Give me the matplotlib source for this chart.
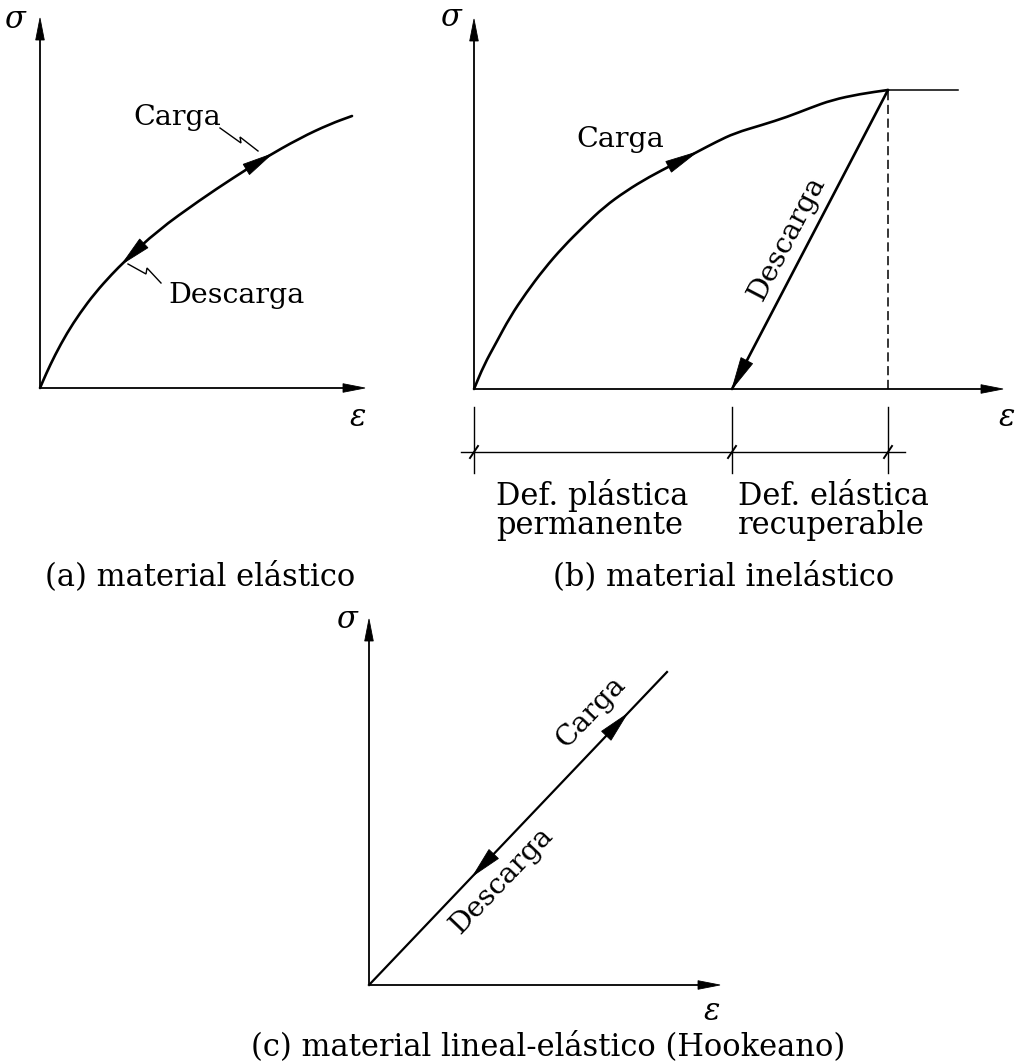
import numpy as np
import matplotlib
matplotlib.use("Agg")
import matplotlib.pyplot as plt
from matplotlib.patches import Polygon, PathPatch
from matplotlib.path import Path
from matplotlib import transforms

plt.rcParams['font.family'] = ['DejaVu Serif']

# ---------------------------------------------------------------
# Stress-strain curves, in drawing units measured from each
# panel's origin (strain to the right, stress upwards)
# ---------------------------------------------------------------
# (a) elastic material: loading and unloading follow the same curve
a_strain = [0, 6, 15, 27, 40, 55, 72, 85, 117, 160, 193, 223, 260, 290, 312]
a_stress = [0, 14, 33, 55, 75, 95, 114, 127, 157, 188, 210, 229, 250, 264, 272]

# (b) inelastic material: loading curve, elastic unloading, yield plateau
b_load_strain = [0, 10, 22, 36, 52, 70, 89, 110, 130, 152, 175, 200, 223, 242,
                 261, 288, 313, 336, 358, 386, 414]
b_load_stress = [0, 24, 46, 72, 96, 120, 142, 163, 182, 198, 212, 225, 237, 247,
                 256, 264, 272, 281, 289, 295, 299]
b_unload_strain = [414, 258]
b_unload_stress = [299, 0]
b_plateau_strain = [414, 484]
b_plateau_stress = [299, 299]

# (c) linear-elastic (Hookean) material
c_strain = [0, 298]
c_stress = [0, 313]

captions = ["(a) material elástico",
            "(b) material inelástico",
            "(c) material lineal-elástico (Hookeano)"]
strain_parts = ["Def. plástica\npermanente", "Def. elástica\nrecuperable"]
load_label = "Carga"
unload_label = "Descarga"

# ---------------------------------------------------------------
W, H, DPI = 1024, 1063, 100
FS = 20.5          # labels on the curves
FS_NOTE = 22       # strain split notes and captions
CURVE_LW = 1.9
AXIS_LW = 1.3

fig = plt.figure(figsize=(W / DPI, H / DPI), dpi=DPI)
fig.patch.set_facecolor('white')
ax = fig.add_axes([0, 0, 1, 1])
ax.set_xlim(0, W)
ax.set_ylim(0, H)
ax.axis('off')


def panel(ox, oy):
    """Transform for a panel whose origin sits at (ox, oy) counted from the top-left."""
    return transforms.Affine2D().translate(ox, H - oy) + ax.transData


def smooth_curve(tr, xs, ys, lw=CURVE_LW):
    """Quadratic B-spline through the midpoints of the sampled curve."""
    P = np.column_stack([xs, ys]).astype(float)
    mids = (P[:-1] + P[1:]) / 2
    verts = [P[0], mids[0]]
    codes = [Path.MOVETO, Path.LINETO]
    for i in range(1, len(P) - 1):
        verts += [P[i], mids[i]]
        codes += [Path.CURVE3, Path.CURVE3]
    verts.append(P[-1])
    codes.append(Path.LINETO)
    ax.add_patch(PathPatch(Path(verts, codes), fill=False, lw=lw, ec='black',
                           capstyle='round', joinstyle='round', transform=tr))


def head(tr, tip, d, L, w):
    d = np.asarray(d, float)
    d = d / np.hypot(*d)
    n = np.array([-d[1], d[0]])
    tip = np.asarray(tip, float)
    base = tip - L * d
    pts = [tip, base + w * n, base - w * n]
    ax.add_patch(Polygon(pts, closed=True, fc='black', ec='black', lw=0.6,
                         transform=tr, zorder=4))


def curve_head(tr, xs, ys, s_tip, forward, L=30, w=6):
    xs = np.asarray(xs, float)
    ys = np.asarray(ys, float)
    y_tip = np.interp(s_tip, xs, ys)
    s_back = s_tip - 0.7 * L if forward else s_tip + 0.7 * L
    y_back = np.interp(s_back, xs, ys)
    head(tr, (s_tip, y_tip), (s_tip - s_back, y_tip - y_back), L, w)


def frame(tr, xlen, ylen, sig_pos, eps_pos):
    L, w = 22, 4.3
    ax.plot([0, xlen - L / 2], [0, 0], color='black', lw=AXIS_LW, transform=tr,
            solid_capstyle='butt')
    ax.plot([0, 0], [0, ylen - L / 2], color='black', lw=AXIS_LW, transform=tr,
            solid_capstyle='butt')
    head(tr, (xlen, 0), (1, 0), L, w)
    head(tr, (0, ylen), (0, 1), L, w)
    ax.text(*sig_pos, "σ", transform=tr, fontsize=22, style='italic',
            ha='center', va='center')
    ax.text(*eps_pos, "ε", transform=tr, fontsize=22, style='italic',
            ha='center', va='center')


def leader(tr, pts):
    xs, ys = zip(*pts)
    ax.plot(xs, ys, color='black', lw=1.0, transform=tr,
            solid_joinstyle='miter')


def angle_of(xs, ys):
    return np.degrees(np.arctan2(ys[-1] - ys[0], xs[-1] - xs[0]))


# ----------------------------- (a) -----------------------------
ta = panel(40, 388)
frame(ta, 325, 370, (-25, 368), (318, -29))
smooth_curve(ta, a_strain, a_stress)
curve_head(ta, a_strain, a_stress, 232, True)
curve_head(ta, a_strain, a_stress, 82, False)
ax.text(137, 263, load_label, transform=ta, fontsize=FS, ha='center', va='baseline')
ax.text(196, 85, unload_label, transform=ta, fontsize=FS, ha='center', va='baseline')
leader(ta, [(180, 260), (201, 245), (200, 251), (218, 237)])
leader(ta, [(88, 124), (106, 114), (107, 120), (121, 105)])

# ----------------------------- (b) -----------------------------
tb = panel(474, 389)
frame(tb, 529, 370, (-23, 372), (533, -28))
smooth_curve(tb, b_load_strain, b_load_stress)
ax.plot(b_unload_strain, b_unload_stress, color='black', lw=CURVE_LW, transform=tb,
        solid_capstyle='round')
ax.plot(b_plateau_strain, b_plateau_stress, color='black', lw=1.1, transform=tb)
ax.plot([b_unload_strain[0]] * 2, [0, b_unload_stress[0]], color='black', lw=1.1,
        ls=(0, (6, 3)), transform=tb)
curve_head(tb, b_load_strain, b_load_stress, 223, True, L=32)
head(tb, (b_unload_strain[1], b_unload_stress[1]),
     (b_unload_strain[1] - b_unload_strain[0], b_unload_stress[1] - b_unload_stress[0]),
     32, 6.5)
ax.text(146, 242, load_label, transform=tb, fontsize=FS, ha='center', va='baseline')
ang_b = angle_of(b_unload_strain[::-1], b_unload_stress[::-1])
ax.text(313, 151, unload_label, transform=tb, fontsize=FS, rotation=ang_b,
        rotation_mode='anchor', ha='center', va='center')

# strain split: permanent + recoverable
dim_y = -63
marks = [0, b_unload_strain[1], b_unload_strain[0]]
ax.plot([-13, 431], [dim_y, dim_y], color='black', lw=1.0, transform=tb)
for m in marks:
    ax.plot([m, m], [-18, -84], color='black', lw=1.0, transform=tb)
    ax.plot([m - 4, m + 4], [dim_y - 6, dim_y + 6], color='black', lw=1.4,
            transform=tb)
for x0, txt in zip([marks[0] + 22, marks[1] + 6], strain_parts):
    for k, line in enumerate(txt.split("\n")):
        ax.text(x0, -116 - 29 * k, line, transform=tb, fontsize=FS_NOTE,
                ha='left', va='baseline')

# ----------------------------- (c) -----------------------------
tc = panel(369, 985)
frame(tc, 351, 366, (-22, 365), (343, -26))
ax.plot(c_strain, c_stress, color='black', lw=1.6, transform=tc)
c_slope = c_stress[1] / c_strain[1]
head(tc, (258, 258 * c_slope), (1, c_slope), 30, 6.5)
head(tc, (104, 104 * c_slope), (-1, -c_slope), 30, 6.5)
ang_c = angle_of(c_strain, c_stress)
ax.text(222, 273, load_label, transform=tc, fontsize=FS, rotation=ang_c,
        rotation_mode='anchor', ha='center', va='center')
ax.text(133, 105, unload_label, transform=tc, fontsize=FS, rotation=ang_c,
        rotation_mode='anchor', ha='center', va='center')

# ----------------------------- captions ------------------------
for (cx, cy), txt in zip([(200, 585), (724, 585), (548, 1055)], captions):
    ax.text(cx, H - cy, txt, fontsize=FS_NOTE, ha='center', va='baseline')

fig.savefig("out.png", dpi=DPI, facecolor='white')
